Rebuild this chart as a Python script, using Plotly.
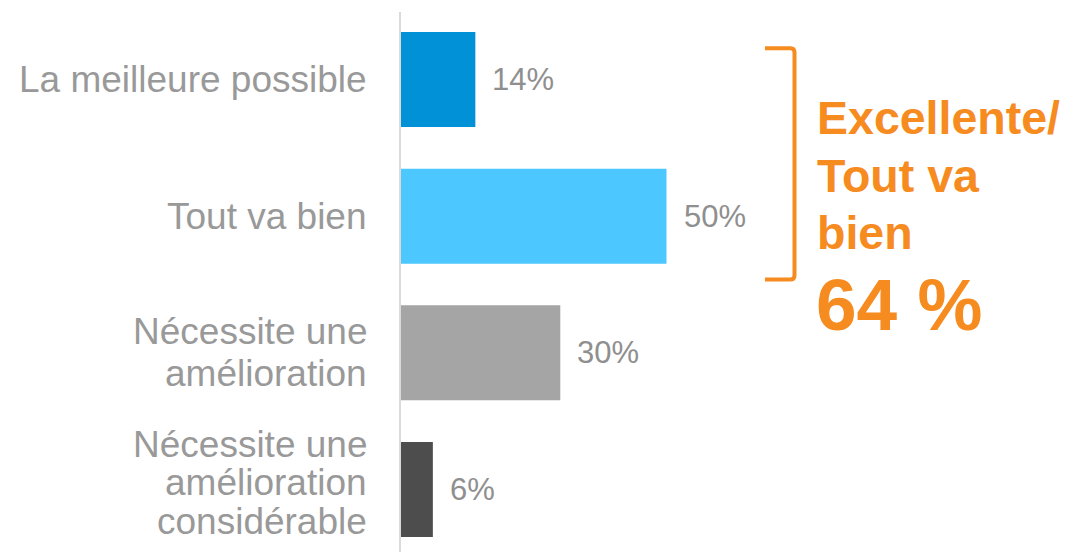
import plotly.graph_objects as go

# ---- data ----
categories = [
    "La meilleure possible",
    "Tout va bien",
    "Nécessite une<br>amélioration",
    "Nécessite une<br>amélioration<br>considérable",
]
values = [14, 50, 30, 6]
bar_colors = ["#0091D6", "#4DC7FF", "#A5A5A5", "#4D4D4D"]
summary_label_lines = ["Excellente/", "Tout va", "bien"]
summary_value = "64 %"

# ---- layout constants ----
W, H = 1074, 552
ML, MR, MT, MB = 401, 0, 12, 0
PX_PER_UNIT = 5.31
plot_w = W - ML - MR
plot_h = H - MT - MB
FONT = "Liberation Sans, Arial, sans-serif"
ORANGE = "#F68B1F"
LABEL_GREY = "#999999"
PCT_GREY = "#8F8F8F"


def px_x(p):
    return (p - ML) / plot_w


def px_y(p):
    return (H - MB - p) / plot_h


fig = go.Figure()
fig.add_trace(go.Bar(
    x=values,
    y=categories,
    orientation="h",
    marker=dict(color=bar_colors, line=dict(width=0)),
    width=0.695,
    hoverinfo="skip",
))

annotations = []
# value labels
for c, v in zip(categories, values):
    annotations.append(dict(
        x=v, y=c, xref="x", yref="y", text=f"{v}%", showarrow=False,
        xanchor="left", yanchor="middle", xshift=15,
        font=dict(family=FONT, size=31, color=PCT_GREY),
    ))

# category labels (one annotation per line for tight line spacing)
line_gap = [0, 0, 42, 38.5]
block_shift = [0, 0, 0, 7]
for i, c in enumerate(categories):
    lines = c.split("<br>")
    n = len(lines)
    for j, ln in enumerate(lines):
        off = ((n - 1) / 2 - j) * line_gap[i] + block_shift[i]
        annotations.append(dict(
            x=0, y=c, xref="paper", yref="y", text=ln, showarrow=False,
            xanchor="right", yanchor="middle", xshift=-32, yshift=off,
            font=dict(family=FONT, size=37, color=LABEL_GREY),
        ))

# summary text
for k, ln in enumerate(summary_label_lines):
    annotations.append(dict(
        x=px_x(815), y=px_y(118 + 57.5 * k), xref="paper", yref="paper",
        text=ln, showarrow=False, align="left",
        xanchor="left", yanchor="middle",
        font=dict(family=FONT, size=46.5, color=ORANGE, weight="bold"),
    ))
annotations.append(dict(
    x=px_x(814), y=px_y(305), xref="paper", yref="paper",
    text=summary_value, showarrow=False, align="left",
    xanchor="left", yanchor="middle",
    font=dict(family=FONT, size=73, color=ORANGE, weight="bold"),
))

# bracket
xa, xb, r = px_x(765), px_x(794.5), 4
ya, yb = 48.3, 279.5
path = (
    f"M {xa},{px_y(ya)} L {px_x(794.5 - r)},{px_y(ya)} "
    f"Q {xb},{px_y(ya)} {xb},{px_y(ya + r)} "
    f"L {xb},{px_y(yb - r)} "
    f"Q {xb},{px_y(yb)} {px_x(794.5 - r)},{px_y(yb)} "
    f"L {xa},{px_y(yb)}"
)
shapes = [dict(type="path", xref="paper", yref="paper", path=path,
               line=dict(color=ORANGE, width=4))]

fig.update_layout(
    width=W, height=H,
    margin=dict(l=ML, r=MR, t=MT, b=MB),
    paper_bgcolor="white", plot_bgcolor="white",
    showlegend=False,
    annotations=annotations,
    shapes=shapes,
    xaxis=dict(range=[0, plot_w / PX_PER_UNIT], visible=False, fixedrange=True),
    yaxis=dict(
        type="category", range=[3.457, -0.494],
        showticklabels=False, showgrid=False, zeroline=False,
        showline=True, linecolor="#DADADA", linewidth=1.5, ticks="",
        fixedrange=True,
    ),
)

fig.write_html(
    "out.html",
    config={"displayModeBar": False},
    post_script="document.body.style.margin='0px';document.body.style.overflow='hidden';",
)
